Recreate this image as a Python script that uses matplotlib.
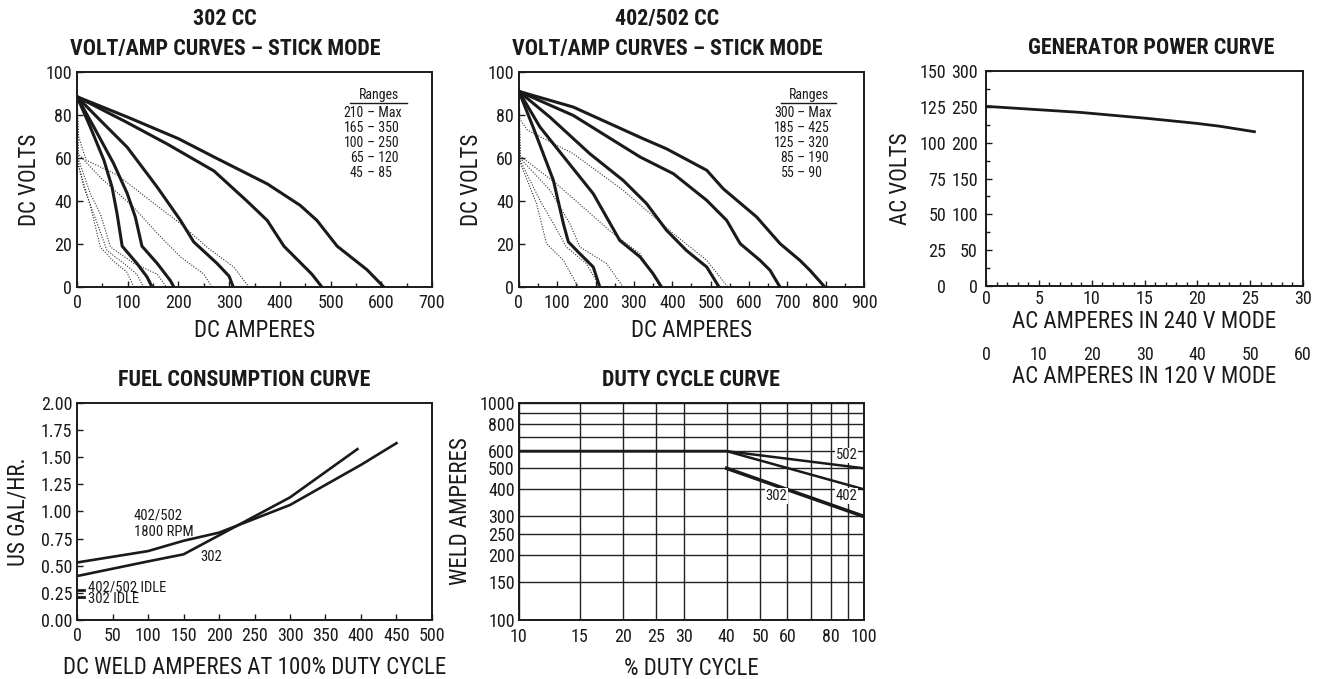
#!/usr/bin/env python3
"""
溶接機の性能カーブ（電圧/電流、発電機出力、燃料消費、使用率）を描画する
"""

import matplotlib
matplotlib.use('Agg')
import matplotlib.pyplot as plt
from matplotlib import font_manager
from matplotlib.ticker import FixedLocator, NullFormatter

INK = '#1a1a1a'

# ---- 302 CC : 各レンジの最大（太線）と最小（点線）
cc302_max_amps = [
  [0, 100, 200, 270, 375, 440, 473, 513, 572, 605],
  [0, 99, 178, 270, 335, 375, 408, 463, 483],
  [0, 46, 99, 158, 204, 230, 276, 300, 308],
  [0, 33, 72, 99, 115, 128, 158, 184, 191],
  [0, 26, 53, 69, 79, 89, 118, 138, 148],
]
cc302_max_volts = [
  [88.5, 79, 69, 60.5, 48, 38, 31, 19, 8, 0],
  [88.5, 76.5, 66.5, 54, 40, 31, 19, 6, 0],
  [88.5, 77.5, 65, 46.5, 31, 21, 11, 5, 0],
  [88.5, 74.5, 57.5, 43.5, 32.5, 19, 11, 3, 0],
  [88.5, 74.5, 59, 46.5, 34, 19, 11, 4.7, 0],
]
cc302_min_amps = [
  [0, 3, 18, 80, 151, 204, 256, 309, 339],
  [0, 2, 46, 112, 158, 204, 250, 266],
  [0, 2, 26, 46, 66, 112, 158, 176],
  [0, 2, 13, 33, 59, 92, 118, 131],
  [0, 2, 26, 46, 72, 98, 112],
]
cc302_min_volts = [
  [88.5, 70, 59, 52, 39, 29.5, 18.6, 9.3, 0],
  [88.5, 62, 51, 37, 25, 14, 6, 0],
  [88.5, 60, 43.5, 34, 18.6, 11, 6, 0],
  [88.5, 58, 46.5, 34, 17, 11, 6, 0],
  [88.5, 57, 38, 18.6, 12, 7, 0],
]
cc302_range_lo = ['210', '165', '100', '65', '45']
cc302_range_hi = ['Max', '350', '250', '120', '85']

# ---- 402/502 CC
cc502_max_amps = [
  [0, 142, 324, 385, 490, 533, 620, 681, 733, 759, 798],
  [0, 142, 316, 403, 490, 542, 577, 629, 655, 681],
  [0, 81, 185, 272, 333, 385, 437, 490, 522],
  [0, 55, 124, 194, 263, 316, 350, 372],
  [0, 37, 90, 116, 129, 159, 194, 211],
]
cc502_max_volts = [
  [91, 83.7, 69, 64.3, 54.3, 45.7, 32.6, 20.2, 12.4, 7.8, 0],
  [91, 79.8, 60.5, 52.7, 40.3, 31, 20.2, 12.4, 7.8, 0],
  [91, 79, 62, 49.6, 38.8, 26.4, 17, 9.3, 0],
  [91, 74.4, 59, 43.4, 21.7, 14, 6.2, 0],
  [91, 74.4, 49.6, 29.5, 21, 15.5, 9.3, 0],
]
cc502_min_amps = [
  [0, 3, 22, 142, 272, 403, 490, 545],
  [0, 3, 98, 246, 316, 368],
  [0, 3, 81, 133, 159, 229, 272],
  [0, 3, 55, 90, 124, 176, 211],
  [0, 3, 46, 72, 116, 155],
]
cc502_min_volts = [
  [91, 78, 73, 62, 45, 24.8, 12.4, 0],
  [91, 61, 48, 24.8, 15.5, 0],
  [91, 60, 45, 29.5, 18.6, 10.9, 0],
  [91, 59, 40.3, 29.5, 18.6, 10.9, 0],
  [91, 58, 38.8, 20.2, 12.4, 0],
]
cc502_range_lo = ['300', '185', '125', '85', '55']
cc502_range_hi = ['Max', '425', '320', '190', '90']

# ---- 発電機
gen_amps = [0, 8.9, 15.2, 19.9, 22.1, 25.4]
gen_volts = [250.7, 242.3, 234, 227, 223, 215.3]

# ---- 燃料消費
fuel502_amps = [0, 100, 150, 200, 300, 400, 450]
fuel502_gal = [0.53, 0.635, 0.73, 0.805, 1.06, 1.43, 1.63]
fuel302_amps = [0, 100, 150, 200, 300, 395]
fuel302_gal = [0.405, 0.54, 0.605, 0.78, 1.13, 1.575]
idle_gal = [0.28, 0.21]
idle_labels = ['402/502 IDLE', '302 IDLE']

# ---- 使用率
duty_pct = [10, 40, 100]
duty502_amps = [600, 600, 500]
duty402_amps = [600, 600, 400]
duty302_pct = [40, 100]
duty302_amps = [500, 300]
duty_xticks = [10, 15, 20, 25, 30, 40, 50, 60, 80, 100]
duty_xminor = [70, 90]
duty_yticks = [100, 150, 200, 250, 300, 400, 500, 600, 800, 1000]
duty_yminor = [700, 900]

# 細めの書体があればそれを使い、なければ Liberation Sans を縮めて使う
_names = {f.name for f in font_manager.fontManager.ttflist}
if 'Liberation Sans Narrow' in _names:
  FAMILY, SCALE = 'Liberation Sans Narrow', 1.0
elif 'Roboto Condensed' in _names:
  FAMILY, SCALE = 'Roboto Condensed', 1.0
else:
  FAMILY, SCALE = 'Liberation Sans', 0.83
plt.rcParams['font.family'] = [FAMILY, 'DejaVu Sans']

TICK_FS = 13 * SCALE
LABEL_FS = 16.5 * SCALE
TITLE_FS = 15.8 * SCALE
SMALL_FS = 10.5 * SCALE
RANGE_FS = 10 * SCALE


def style_axes(ax):
  for s in ax.spines.values():
    s.set_color(INK)
    s.set_linewidth(1.4)
  ax.tick_params(which='both', direction='in', colors=INK, labelsize=TICK_FS,
                 top=False, right=False)
  ax.tick_params(which='major', length=4, width=1)
  ax.tick_params(which='minor', length=3, width=1)


def draw_ranges(ax, lows, highs, x_dash, x_center, x_line):
  ax.text(x_center, 0.893, 'Ranges', transform=ax.transAxes, ha='center',
          va='center', fontsize=RANGE_FS, color=INK)
  ax.plot(x_line, [0.856, 0.856], transform=ax.transAxes, color=INK, lw=1)
  for i, (lo, hi) in enumerate(zip(lows, highs)):
    y = 0.809 - i * 0.07
    ax.text(x_dash - 0.012, y, lo, transform=ax.transAxes, ha='right',
            va='center', fontsize=RANGE_FS, color=INK)
    ax.text(x_dash - 0.012, y, ' \u2013 ' + hi, transform=ax.transAxes,
            ha='left', va='center', fontsize=RANGE_FS, color=INK)


def volt_amp_chart(ax, title, title_x, max_a, max_v, min_a, min_v, xmax,
                   lows, highs, x_dash, x_center, x_line):
  for a, v in zip(min_a, min_v):
    ax.plot(a, v, color='#333333', lw=0.8, ls=(0, (1, 1.4)))
  for a, v in zip(max_a, max_v):
    ax.plot(a, v, color=INK, lw=2.2, solid_joinstyle='round')
  ax.set_xlim(0, xmax)
  ax.set_ylim(0, 100)
  ax.set_xticks(range(0, xmax + 1, 100))
  ax.set_xticks(range(50, xmax, 100), minor=True)
  ax.set_yticks(range(0, 101, 20))
  style_axes(ax)
  ax.tick_params(axis='x', pad=5)
  ax.set_xlabel('DC AMPERES', fontsize=LABEL_FS, color=INK, labelpad=5)
  ax.set_ylabel('DC VOLTS', fontsize=LABEL_FS, color=INK, labelpad=3)
  ax.set_title(title, fontsize=TITLE_FS, fontweight='bold', color=INK,
               pad=12, linespacing=1.5, x=title_x)
  draw_ranges(ax, lows, highs, x_dash, x_center, x_line)


def main():
  fig = plt.figure(figsize=(13.17, 6.79), dpi=100)

  ax1 = fig.add_axes([0.0585, 0.5773, 0.2695, 0.3166])
  volt_amp_chart(ax1, '302 CC\nVOLT/AMP CURVES \u2013 STICK MODE', 0.417,
                 cc302_max_amps, cc302_max_volts, cc302_min_amps,
                 cc302_min_volts, 700, cc302_range_lo, cc302_range_hi,
                 0.82, 0.85, [0.769, 0.93])

  ax2 = fig.add_axes([0.394, 0.5773, 0.262, 0.3166])
  volt_amp_chart(ax2, '402/502 CC\nVOLT/AMP CURVES \u2013 STICK MODE', 0.43,
                 cc502_max_amps, cc502_max_volts, cc502_min_amps,
                 cc502_min_volts, 900, cc502_range_lo, cc502_range_hi,
                 0.81, 0.84, [0.76, 0.92])

  # 発電機出力カーブ
  ax3 = fig.add_axes([0.7487, 0.5788, 0.2407, 0.3166])
  ax3.plot(gen_amps, gen_volts, color=INK, lw=2)
  ax3.set_xlim(0, 30)
  ax3.set_ylim(0, 300)
  ax3.set_xticks(range(0, 31, 5))
  ax3.set_xticks(range(0, 31), minor=True)
  ax3.set_yticks(range(0, 301, 50))
  ax3.set_yticks(range(25, 300, 50), minor=True)
  style_axes(ax3)
  ax3.tick_params(axis='x', pad=3)
  ax3.tick_params(axis='y', pad=6)
  ax3.set_xlabel('AC AMPERES IN 240 V MODE', fontsize=LABEL_FS, color=INK,
                 labelpad=1)
  ax3.set_title('GENERATOR POWER CURVE', fontsize=TITLE_FS, fontweight='bold',
                color=INK, pad=12, x=0.52)
  sec_y = ax3.secondary_yaxis(-0.117, functions=(lambda v: v / 2,
                                                 lambda v: v * 2))
  sec_y.set_yticks(range(0, 151, 25))
  sec_y.spines['left'].set_visible(False)
  sec_y.tick_params(length=0, labelsize=TICK_FS, colors=INK, pad=2)
  sec_y.set_ylabel('AC VOLTS', fontsize=LABEL_FS, color=INK, labelpad=5)
  sec_x = ax3.secondary_xaxis(-0.265, functions=(lambda a: a * 2,
                                                 lambda a: a / 2))
  sec_x.set_xticks(range(0, 61, 10))
  sec_x.spines['bottom'].set_visible(False)
  sec_x.tick_params(length=0, labelsize=TICK_FS, colors=INK, pad=2)
  sec_x.set_xlabel('AC AMPERES IN 120 V MODE', fontsize=LABEL_FS, color=INK,
                   labelpad=1)

  # 燃料消費カーブ
  ax4 = fig.add_axes([0.0585, 0.0869, 0.2695, 0.3196])
  ax4.plot(fuel502_amps, fuel502_gal, color=INK, lw=1.9)
  ax4.plot(fuel302_amps, fuel302_gal, color=INK, lw=1.9)
  for g, lab in zip(idle_gal, idle_labels):
    ax4.plot([0, 10], [g, g], color=INK, lw=2)
    ax4.text(15, g + 0.02 if g > 0.25 else g - 0.015, lab, fontsize=SMALL_FS,
             color=INK, va='center')
  ax4.text(80, 0.96, '402/502', fontsize=SMALL_FS, color=INK, va='center')
  ax4.text(80, 0.815, '1800 RPM', fontsize=SMALL_FS, color=INK, va='center')
  ax4.text(173, 0.585, '302', fontsize=SMALL_FS, color=INK, va='center')
  ax4.set_xlim(0, 500)
  ax4.set_ylim(0, 2)
  ax4.set_xticks(range(0, 501, 50))
  ax4.set_yticks([i * 0.25 for i in range(9)])
  ax4.set_yticklabels(['%.2f' % (i * 0.25) for i in range(9)])
  style_axes(ax4)
  ax4.tick_params(axis='x', pad=5)
  ax4.set_xlabel('DC WELD AMPERES AT 100% DUTY CYCLE', fontsize=LABEL_FS,
                 color=INK, labelpad=8)
  ax4.set_ylabel('US GAL/HR.', fontsize=LABEL_FS, color=INK, labelpad=8)
  ax4.set_title('FUEL CONSUMPTION CURVE', fontsize=TITLE_FS, fontweight='bold',
                color=INK, pad=12, x=0.47)

  # 使用率カーブ
  ax5 = fig.add_axes([0.394, 0.0869, 0.262, 0.3196])
  ax5.set_xscale('log')
  ax5.set_yscale('log')
  ax5.set_xlim(10, 100)
  ax5.set_ylim(100, 1000)
  ax5.xaxis.set_major_locator(FixedLocator(duty_xticks))
  ax5.xaxis.set_minor_locator(FixedLocator(duty_xminor))
  ax5.set_xticklabels([str(t) for t in duty_xticks])
  ax5.xaxis.set_minor_formatter(NullFormatter())
  ax5.yaxis.set_major_locator(FixedLocator(duty_yticks))
  ax5.yaxis.set_minor_locator(FixedLocator(duty_yminor))
  ax5.set_yticklabels([str(t) for t in duty_yticks])
  ax5.yaxis.set_minor_formatter(NullFormatter())
  ax5.grid(True, which='both', color='#222222', lw=1)
  ax5.plot(duty_pct, duty502_amps, color=INK, lw=1.8, zorder=3)
  ax5.plot(duty_pct, duty402_amps, color=INK, lw=1.8, zorder=3)
  ax5.plot(duty302_pct, duty302_amps, color=INK, lw=2.6, zorder=3)
  box = dict(facecolor='white', edgecolor='none', pad=0.5)
  ax5.text(89, 573, '502', fontsize=SMALL_FS, color=INK, ha='center',
           va='center', bbox=box, zorder=4)
  ax5.text(89, 373, '402', fontsize=SMALL_FS, color=INK, ha='center',
           va='center', bbox=box, zorder=4)
  ax5.text(55.7, 373, '302', fontsize=SMALL_FS, color=INK, ha='center',
           va='center', bbox=box, zorder=4)
  style_axes(ax5)
  ax5.tick_params(which='both', length=0)
  ax5.tick_params(axis='x', pad=6)
  ax5.tick_params(axis='y', pad=3)
  ax5.set_xlabel('% DUTY CYCLE', fontsize=LABEL_FS, color=INK, labelpad=8)
  ax5.set_ylabel('WELD AMPERES', fontsize=LABEL_FS, color=INK, labelpad=5)
  ax5.set_title('DUTY CYCLE CURVE', fontsize=TITLE_FS, fontweight='bold',
                color=INK, pad=12)

  fig.savefig('out.png', dpi=100)


if __name__ == '__main__':
  main()
